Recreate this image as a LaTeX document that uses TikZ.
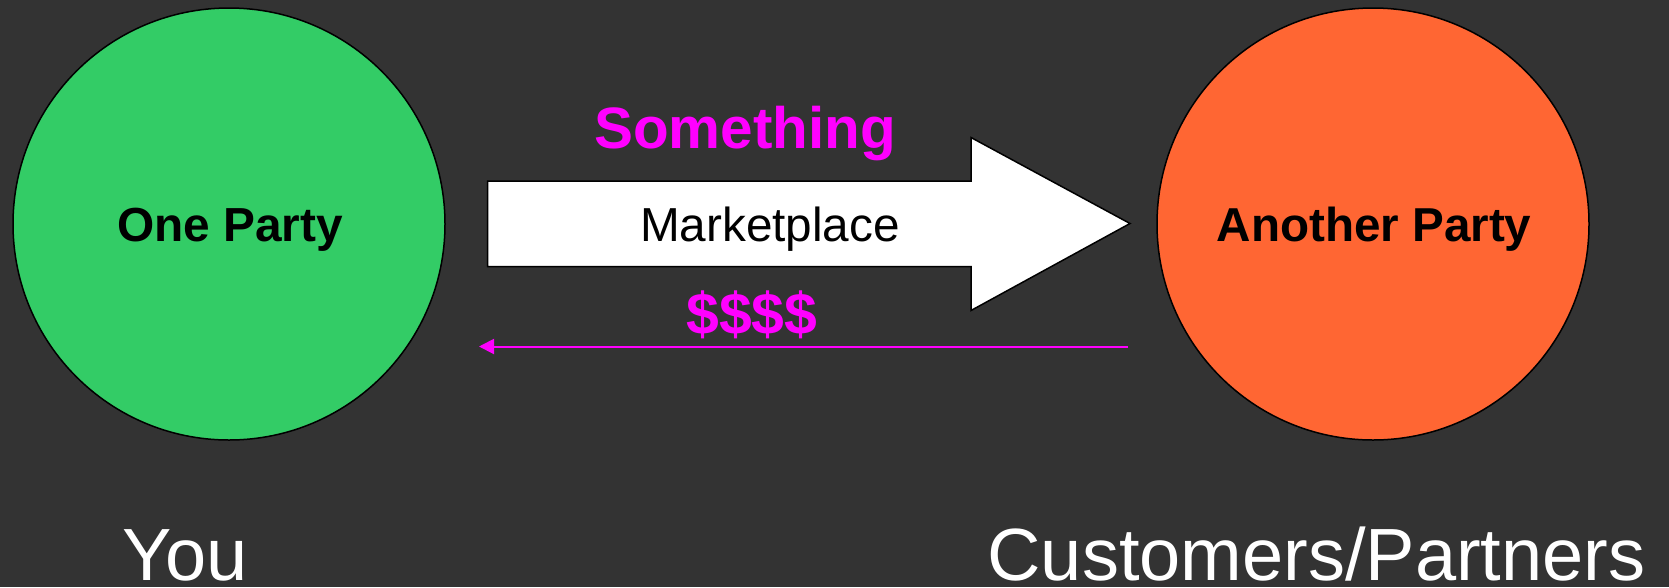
\documentclass[tikz,border=0pt]{standalone}
\usepackage{fontspec}
\setmainfont{Liberation Sans}
\usetikzlibrary{arrows.meta}
\definecolor{bg}{HTML}{333333}
\definecolor{partygreen}{HTML}{33CC66}
\definecolor{partyorange}{HTML}{FF6633}
\definecolor{mag}{HTML}{FF00FF}
\tikzset{
  party/.style={circle,draw=black,line width=1.5pt,minimum size=432pt,inner sep=0pt},
  lbl/.style={anchor=base,inner sep=0pt},
  fs/.style={font=\fontsize{#1}{#1}\selectfont}
}
\begin{document}
\begin{tikzpicture}[x=1pt,y=-1pt]
\useasboundingbox (0,0) rectangle (1669,587);
\fill[bg] (0,0) rectangle (1669,587);
\node[party,fill=partygreen] (one) at (229,224) {};
\node[party,fill=partyorange] (another) at (1373,224) {};
\draw[fill=white,draw=black,line width=1.5pt]
  (487.5,181) -- (971,181) -- (971,137.5) -- (1130,223.5) -- (971,310.5) -- (971,266.5) -- (487.5,266.5) -- cycle;
\node[lbl,fs=47.8] (onelbl) at (230,241) {\bfseries One Party};
\node[lbl,fs=47.6] (anotherlbl) at (1374,241) {\bfseries Another Party};
\node[lbl,fs=47.7] (market) at (770,241) {Marketplace};
\node[lbl,fs=58.4,text=mag] (something) at (745,148) {\bfseries Something};
\node[lbl,fs=58.9,text=mag] (money) at (752,334) {\bfseries \$\$\$\$};
\node[lbl,fs=74,text=white,text depth=0pt] (you) at (185,580) {You};
\node[lbl,fs=74,text=white,text depth=0pt] (cust) at (1316.5,580) {Customers/Partners};
\coordinate (mstart) at (1128,346.5);
\coordinate (mend) at (479,346.5);
\draw[mag,line width=2pt,-{Triangle[length=15pt,width=15pt]}] (mstart) -- (mend);
\end{tikzpicture}
\end{document}
